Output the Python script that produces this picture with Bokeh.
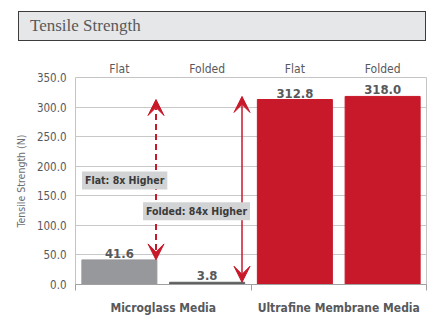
from bokeh.plotting import figure
from bokeh.models import (Range1d, LinearAxis, FixedTicker, NumeralTickFormatter,
                          Label, Arrow, VeeHead, Div, ColumnDataSource)
from bokeh.layouts import column
from bokeh.embed import file_html
from bokeh.resources import INLINE

title_text = "Tensile Strength"
groups = ["Microglass Media", "Ultrafine Membrane Media"]
categories = ["Flat", "Folded", "Flat", "Folded"]
values = [41.6, 3.8, 312.8, 318.0]
value_labels = ["41.6", "3.8", "312.8", "318.0"]
bar_colors = ["#97989b", "#5f6062", "#c8192b", "#c8192b"]
y_ticks = [0, 50, 100, 150, 200, 250, 300, 350]
y_label = "Tensile Strength (N)"
note_flat = "Flat: 8x Higher"
note_folded = "Folded: 84x Higher"

FONT = "DejaVu Sans Condensed"
GREY = "#58595b"
RED = "#c8192b"

xs = [i + 0.5 for i in range(len(values))]
src = ColumnDataSource(dict(x=xs, top=values, color=bar_colors, lab=value_labels))

p = figure(width=429, height=271, x_range=Range1d(0, len(values)), y_range=Range1d(0, 350),
           output_backend="svg", toolbar_location=None, x_axis_type=None,
           min_border_left=75, min_border_right=3, min_border_top=31, min_border_bottom=31)
p.background_fill_color = "white"
p.border_fill_color = "white"
p.outline_line_color = "#c4c4c4"
p.outline_line_width = 1

# bars
p.vbar(x="x", top="top", width=0.855, color="color", source=src)
p.text(x="x", y="top", text="lab", source=src, text_align="center", text_baseline="bottom",
       y_offset=-2, text_font_size="13px", text_font_style="bold", text_color=GREY,
       text_font={"value": FONT})

# y axis
yax = p.yaxis[0]
yax.ticker = FixedTicker(ticks=y_ticks)
yax.formatter = NumeralTickFormatter(format="0.0")
yax.major_tick_line_color = None
yax.minor_tick_line_color = None
yax.major_tick_out = 0
yax.major_tick_in = 0
yax.minor_tick_out = 0
yax.axis_line_color = None
yax.major_label_standoff = 9
yax.major_label_text_font = FONT
yax.major_label_text_font_size = "11.5px"
yax.major_label_text_color = GREY
yax.axis_label = y_label
yax.axis_label_text_font = FONT
yax.axis_label_text_font_size = "10.5px"
yax.axis_label_text_font_style = "normal"
yax.axis_label_text_color = "#6d6e71"
yax.axis_label_standoff = 7

p.ygrid[0].ticker = FixedTicker(ticks=y_ticks)
p.ygrid[0].grid_line_color = "#c8c8c8"

# bottom axis: group labels with boundary ticks
centers = [2 * i + 1 for i in range(len(groups))]
bounds = [2 * i for i in range(len(groups) + 1)]
bax = LinearAxis(ticker=FixedTicker(ticks=centers, minor_ticks=bounds),
                 major_label_overrides={c: g for c, g in zip(centers, groups)})
bax.major_tick_line_color = None
bax.major_tick_out = 0
bax.major_tick_in = 0
bax.minor_tick_line_color = "#a0a0a0"
bax.minor_tick_out = 6
bax.minor_tick_in = 0
bax.axis_line_color = "#a0a0a0"
bax.major_label_standoff = 10
bax.major_label_text_font = FONT
bax.major_label_text_font_size = "12px"
bax.major_label_text_font_style = "bold"
bax.major_label_text_color = GREY
p.add_layout(bax, "below")

# top axis: subcategory labels
tax = LinearAxis(ticker=FixedTicker(ticks=xs),
                 major_label_overrides={x: c for x, c in zip(xs, categories)})
tax.axis_line_color = None
tax.major_tick_line_color = None
tax.minor_tick_line_color = None
tax.major_tick_out = 0
tax.major_tick_in = 0
tax.major_label_standoff = 2
tax.major_label_text_font = FONT
tax.major_label_text_font_size = "12px"
tax.major_label_text_color = GREY
p.add_layout(tax, "above")

# arrows
bw = 0.855
p.add_layout(Arrow(x_start=xs[0] + bw / 2 - 0.01, y_start=values[0],
                   x_end=xs[0] + bw / 2 - 0.01, y_end=values[2],
                   line_color=RED, line_width=2, line_dash="6 4",
                   start=VeeHead(size=16, fill_color=RED, line_color=RED),
                   end=VeeHead(size=16, fill_color=RED, line_color=RED)))
p.add_layout(Arrow(x_start=xs[1] + bw / 2 - 0.03, y_start=values[1],
                   x_end=xs[1] + bw / 2 - 0.03, y_end=values[3],
                   line_color=RED, line_width=1.5,
                   start=VeeHead(size=16, fill_color=RED, line_color=RED),
                   end=VeeHead(size=16, fill_color=RED, line_color=RED)))

# notes
for txt, xx, yy in [(note_flat, 0.074, 176), (note_folded, 0.77, 124)]:
    p.add_layout(Label(x=xx, y=yy, text=txt, text_align="left", text_baseline="middle",
                       text_font=FONT, text_font_size="10.5px", text_font_style="bold",
                       text_color="#3a3a3a", background_fill_color="#d1d3d4",
                       padding=3))

title_html = ('<div style="margin:6px 0 0 13px;width:408px;height:30px;box-sizing:border-box;'
              'background:#e6e7e8;border:1px solid #3c3c3c;font-family:\'Liberation Serif\';'
              'font-size:17px;color:#58595b;padding-left:11px;line-height:28px;">'
              + title_text + '</div>')
div = Div(text=title_html, width=429, height=36)

layout = column(div, p, spacing=0, styles={"outline": "1px solid #3a3a3a"})

open("out.html", "w").write(file_html(layout, INLINE))
